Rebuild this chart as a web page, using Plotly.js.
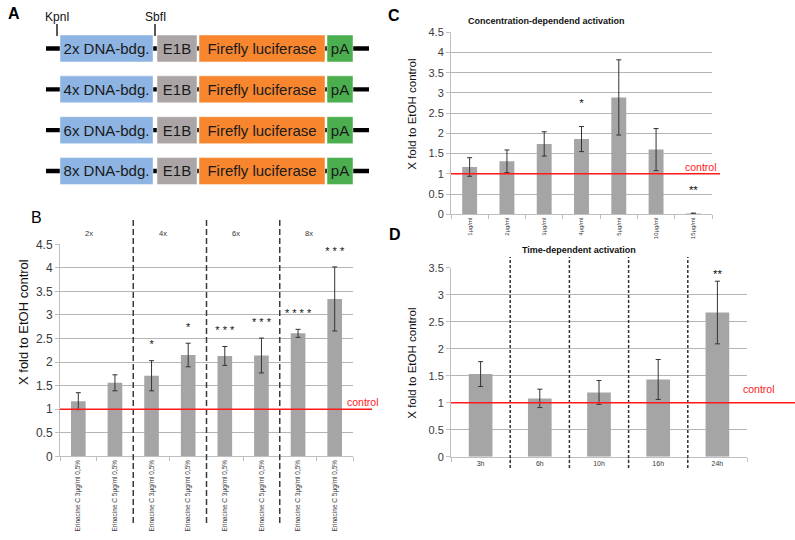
<!DOCTYPE html>
<html>
<head>
<meta charset="utf-8">
<script src="https://cdn.plot.ly/plotly-3.0.1.min.js"></script>
<style>
  body { margin: 0; background: #fff; }
  #fig { width: 795px; height: 540px; }
</style>
</head>
<body>
<div id="fig"></div>
<script>
// A: reporter constructs
const repeats = ['2x', '4x', '6x', '8x'];
const segmentNames = ['DNA-bdg.', 'E1B', 'Firefly luciferase', 'pA'];
const segmentLengths = [93, 40, 126, 26];
const linkerLengths = [14, 4, 2, 2, 16];
const segmentColors = ['#8db4e2', '#aba6a5', '#f7862f', '#4bae4f'];
const siteNames = ['KpnI', 'SbfI'];

// B: number of binding sites
const bGroups = ['2x', '4x', '6x', '8x'];
const bLabels = ['Erinacine C 3µg/ml 0,5%', 'Erinacine C 5µg/ml 0,5%',
                 'Erinacine C 3µg/ml 0,5%', 'Erinacine C 5µg/ml 0,5%',
                 'Erinacine C 3µg/ml 0,5%', 'Erinacine C 5µg/ml 0,5%',
                 'Erinacine C 3µg/ml 0,5%', 'Erinacine C 5µg/ml 0,5%'];
const bValues = [1.17, 1.56, 1.71, 2.15, 2.13, 2.14, 2.61, 3.34];
const bErrors = [0.18, 0.17, 0.32, 0.25, 0.20, 0.37, 0.085, 0.68];
const bStars = ['', '', '*', '*', '* * *', '* * *', '* * * *', '* * *'];

// C: concentration
const cLabels = ['1µg/ml', '2µg/ml', '3µg/ml', '4µg/ml', '5µg/ml', '10µg/ml', '15µg/ml'];
const cValues = [1.17, 1.31, 1.74, 1.86, 2.89, 1.60, 0.02];
const cErrors = [0.23, 0.28, 0.30, 0.31, 0.93, 0.52, 0.01];
const cStars = ['', '', '', '*', '', '', '**'];

// D: time
const dLabels = ['3h', '6h', '10h', '16h', '24h'];
const dValues = [1.53, 1.08, 1.19, 1.43, 2.67];
const dErrors = [0.23, 0.17, 0.22, 0.37, 0.58];
const dStars = ['', '', '', '', '**'];

const controlLevel = 1;

const W = 795, H = 540;
const px = v => v / W;
const py = v => 1 - v / H;
const FONT = 'Liberation Sans, Arial, sans-serif';
const BAR = '#a5a5a5';
const GRID = '#b5b5b5';
const AXIS = '#bfbfbf';
const TICK = '#3a3a3a';

const traces = [];

// --- panel A: backbone first, boxes on top
const backbone = linkerLengths.concat(segmentLengths).reduce((a, b) => a + b, 0);
const rowIdx = repeats.map((r, i) => i);
traces.push({
  type: 'bar', orientation: 'h', xaxis: 'x4', yaxis: 'y4',
  y: rowIdx, x: repeats.map(() => backbone), base: repeats.map(() => 0), width: 0.105,
  marker: { color: '#000', line: { width: 0 } }, hoverinfo: 'skip', showlegend: false
});
const segStarts = [];
let pos = linkerLengths[0];
segmentLengths.forEach((len, k) => {
  segStarts.push(pos);
  pos += len + linkerLengths[k + 1];
});
segmentNames.forEach((name, k) => {
  traces.push({
    type: 'bar', orientation: 'h', xaxis: 'x4', yaxis: 'y4',
    y: rowIdx,
    x: repeats.map(() => segmentLengths[k]),
    base: repeats.map(() => segStarts[k]),
    width: 0.66,
    marker: { color: segmentColors[k], line: { color: 'rgba(255,255,255,0.45)', width: 1 } },
    text: repeats.map(r => k === 0 ? r + ' ' + name : name),
    textposition: 'inside', insidetextanchor: 'middle', constraintext: 'none',
    textfont: { family: FONT, size: 15, color: '#1a1a1a' },
    hoverinfo: 'skip', showlegend: false
  });
});
const sitePos = [segStarts[0] - 3, segStarts[0] + segmentLengths[0] + linkerLengths[1] / 2];

// --- bar panels
function barPanel(xa, ya, x, values, errors) {
  return {
    type: 'bar', xaxis: xa, yaxis: ya, x: x, y: values,
    marker: { color: BAR },
    error_y: { type: 'data', array: errors, visible: true, color: '#333', thickness: 1, width: 2.5 },
    hoverinfo: 'skip', showlegend: false
  };
}
function starTrace(xa, ya, x, values, errors, stars, offset, size) {
  return {
    type: 'scatter', mode: 'text', xaxis: xa, yaxis: ya, x: x,
    y: values.map((v, i) => v + errors[i] + offset),
    text: stars, textposition: 'middle center', cliponaxis: false,
    textfont: { family: FONT, size: size, color: '#111' },
    hoverinfo: 'skip', showlegend: false
  };
}
const bIdx = bLabels.map((l, i) => i);
traces.push(barPanel('x', 'y', bIdx, bValues, bErrors));
traces.push(starTrace('x', 'y', bIdx, bValues, bErrors, bStars, 0.32, 11));
traces.push(barPanel('x2', 'y2', cLabels, cValues, cErrors));
traces.push(starTrace('x2', 'y2', cLabels, cValues, cErrors, cStars, 0.55, 11.5));
traces.push(barPanel('x3', 'y3', dLabels, dValues, dErrors));
traces.push(starTrace('x3', 'y3', dLabels, dValues, dErrors, dStars, 0.12, 11.5));

function yAxis(domain, range, size, anchor) {
  return {
    domain: domain, range: range, dtick: 0.5, anchor: anchor,
    showgrid: true, gridcolor: GRID, gridwidth: 1, zeroline: false,
    showline: true, linecolor: AXIS, linewidth: 1,
    ticks: 'outside', ticklen: 4, tickcolor: AXIS,
    tickfont: { family: FONT, size: size, color: TICK }, fixedrange: true
  };
}
function xAxis(domain, anchor, size) {
  return {
    domain: domain, anchor: anchor, showgrid: false, zeroline: false,
    showline: true, linecolor: AXIS, linewidth: 1,
    tickfont: { family: FONT, size: size, color: TICK }, fixedrange: true
  };
}

const xB = xAxis([px(60), px(353)], 'y', 6.5);
Object.assign(xB, {
  range: [-0.5, bLabels.length - 0.5], tickmode: 'array', tickvals: bIdx, ticktext: bLabels,
  tickangle: -90, ticks: '',
  minor: { tickmode: 'linear', tick0: 0.5, dtick: 1, ticks: 'outside', ticklen: 4, tickcolor: AXIS, showgrid: false }
});
const xC = xAxis([px(451), px(712)], 'y2', 6);
Object.assign(xC, { tickangle: -90, ticks: 'outside', tickson: 'boundaries', ticklen: 4, tickcolor: AXIS });
const xD = xAxis([px(451), px(747)], 'y3', 7);
Object.assign(xD, { tickangle: 0, ticks: 'outside', tickson: 'boundaries', ticklen: 4, tickcolor: AXIS });

const shapes = [];
const annotations = [];
function note(o) {
  annotations.push(Object.assign({ showarrow: false, xanchor: 'center', yanchor: 'middle' }, o));
}

// group dividers in B (dashed) and D (dotted)
for (let g = 1; g < bGroups.length; g++) {
  shapes.push({ type: 'line', xref: 'x', yref: 'paper', x0: g * 2 - 0.5, x1: g * 2 - 0.5,
    y0: py(523), y1: py(217), line: { color: '#3a3a3a', width: 1.5, dash: '6px,3px' } });
}
bGroups.forEach((g, i) => {
  note({ xref: 'x', yref: 'paper', x: i * 2 + 0.3, y: py(233), text: g,
    font: { family: FONT, size: 7.5, color: '#333' } });
});
for (let i = 1; i < dLabels.length; i++) {
  shapes.push({ type: 'line', xref: 'x3', yref: 'paper', x0: i - 0.5, x1: i - 0.5,
    y0: py(468), y1: py(257), line: { color: '#333', width: 1.5, dash: '3px,2px' } });
}

// control lines
[['y', 60, 372], ['y2', 451, 720], ['y3', 451, 795]].forEach(([ya, a, b]) => {
  shapes.push({ type: 'line', xref: 'paper', yref: ya, x0: px(a), x1: px(b), y0: controlLevel, y1: controlLevel,
    line: { color: '#ff1a1a', width: 1.5 } });
});
[[363, 402], [701, 167], [758.5, 389]].forEach(([x, y]) => {
  note({ xref: 'paper', yref: 'paper', x: px(x), y: py(y), text: 'control',
    font: { family: FONT, size: 10.5, color: '#ff2020' } });
});

// restriction sites in A
siteNames.forEach((s, i) => {
  shapes.push({ type: 'line', xref: 'x4', yref: 'paper', x0: sitePos[i], x1: sitePos[i],
    y0: py(36), y1: py(24), line: { color: '#000', width: 1.3 } });
  note({ xref: 'x4', yref: 'paper', x: sitePos[i], y: py(16.5), text: s,
    font: { family: FONT, size: 12, color: '#111' } });
});

// y titles
[[23, 322, 13], [411.7, 114, 11.5], [411.7, 363, 11.5]].forEach(([x, y, s]) => {
  note({ xref: 'paper', yref: 'paper', x: px(x), y: py(y), text: 'X fold to EtOH control',
    textangle: -90, font: { family: FONT, size: s, color: '#111' } });
});

// panel titles
note({ xref: 'paper', yref: 'paper', x: px(546), y: py(21), text: '<b>Concentration-dependend activation</b>',
  font: { family: FONT, size: 9, color: '#111' } });
note({ xref: 'paper', yref: 'paper', x: px(579), y: py(250), text: '<b>Time-dependent activation</b>',
  font: { family: FONT, size: 9, color: '#111' } });

// panel letters
[['<b>A</b>', 14, 14], ['B', 36, 217.5], ['<b>C</b>', 394, 15], ['<b>D</b>', 395, 234]].forEach(([t, x, y]) => {
  note({ xref: 'paper', yref: 'paper', x: px(x), y: py(y), text: t,
    font: { family: FONT, size: 16, color: '#000' } });
});

const layout = {
  width: W, height: H,
  margin: { l: 0, r: 0, t: 0, b: 0 },
  paper_bgcolor: '#fff', plot_bgcolor: 'rgba(0,0,0,0)',
  bargap: 0.6, barmode: 'overlay', showlegend: false,
  xaxis: xB,
  yaxis: yAxis([py(456.3), py(244.3)], [0, 4.5], 12, 'x'),
  xaxis2: xC,
  yaxis2: yAxis([py(214.3), py(32.3)], [0, 4.5], 11, 'x2'),
  xaxis3: xD,
  yaxis3: yAxis([py(456.7), py(267.7)], [0, 3.5], 11, 'x3'),
  xaxis4: { domain: [px(46), px(369)], range: [0, backbone], anchor: 'y4', visible: false, fixedrange: true },
  yaxis4: { domain: [py(191.4), py(28.1)], range: [3.5, -0.5], anchor: 'x4', visible: false, fixedrange: true },
  shapes: shapes,
  annotations: annotations
};

Plotly.newPlot('fig', traces, layout, { displayModeBar: false, staticPlot: true });
</script>
</body>
</html>
